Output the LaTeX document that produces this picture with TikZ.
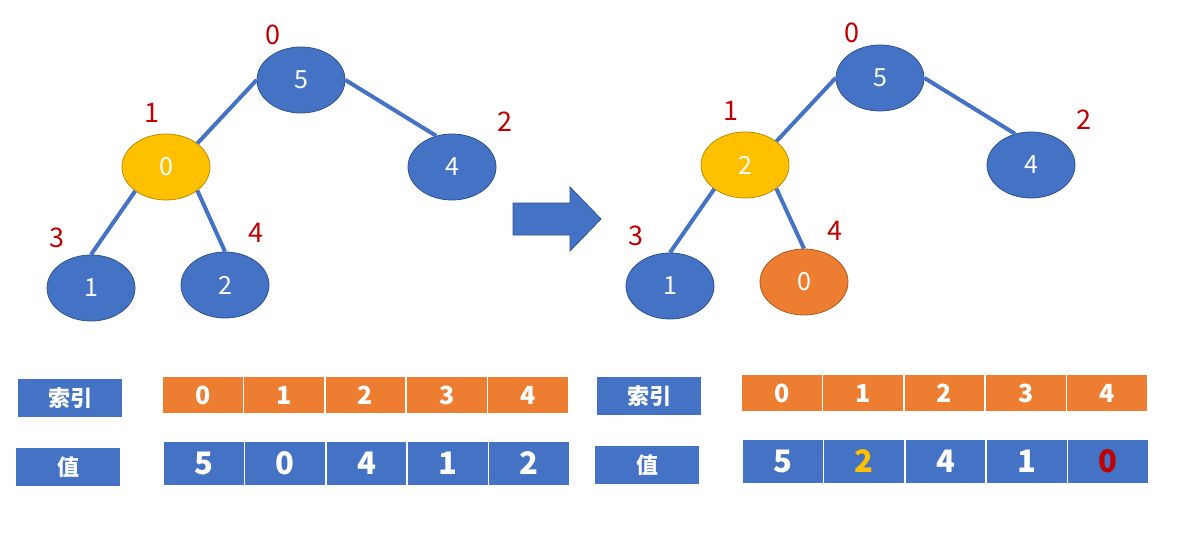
\documentclass[tikz,border=0pt]{standalone}
\usepackage{fontspec}
\setmainfont{Noto Sans CJK SC}
\usetikzlibrary{shapes.geometric}
\definecolor{myblue}{HTML}{4472C4}
\definecolor{blueedge}{HTML}{2F528F}
\definecolor{myorange}{HTML}{ED7D31}
\definecolor{orangeedge}{HTML}{AE5A21}
\definecolor{myyellow}{HTML}{FFC000}
\definecolor{yellowedge}{HTML}{BC8C00}
\definecolor{myred}{HTML}{C00000}
\begin{document}
\begin{tikzpicture}[x=1pt,y=-1pt,
  tnode/.style={ellipse, minimum width=88pt, minimum height=66pt, inner sep=0pt,
    fill=myblue, draw=blueedge, line width=0.8pt, text=white,
    font=\fontsize{25}{25}\selectfont},
  ynode/.style={tnode, fill=myyellow, draw=yellowedge},
  onode/.style={tnode, fill=myorange, draw=orangeedge},
  treeedge/.style={myblue, line width=4pt},
  idx/.style={text=myred, inner sep=0pt, font=\fontsize{27}{27}\selectfont},
  lab/.style={rectangle, fill=myblue, minimum width=104pt, minimum height=38pt,
    inner sep=0pt, text=white, font=\bfseries\fontsize{22}{22}\selectfont},
  icell/.style={rectangle, fill=myorange, draw=white, line width=1.5pt,
    minimum width=81.4pt, minimum height=38pt, inner sep=0pt, text=white,
    font=\bfseries\fontsize{25}{25}\selectfont},
  vcell/.style={icell, fill=myblue, minimum height=45pt,
    font=\bfseries\fontsize{31}{31}\selectfont},
  blockarrow/.style={fill=myblue, draw=blueedge, line width=0.8pt}
]
\useasboundingbox (0,0) rectangle (1182,556);

% ---------- left tree ----------
\node[tnode] (La) at (301,80) {5};
\node[ynode] (Lb) at (166,167) {0};
\node[tnode] (Lc) at (452,167) {4};
\node[tnode] (Ld) at (91,288) {1};
\node[tnode] (Le) at (225,285) {2};
\draw[treeedge] (La.west) -- (Lb.37);
\draw[treeedge] (La.east) -- (Lc.117);
\draw[treeedge] (Lb.218) -- (Ld.north);
\draw[treeedge] (Lb.-37) -- (Le.north);
\node[idx] (Lia) at (273,35) {0};
\node[idx] (Lib) at (152,113) {1};
\node[idx] (Lic) at (505,122) {2};
\node[idx] (Lid) at (57,238) {3};
\node[idx] (Lie) at (256,233) {4};

% ---------- arrow ----------
\draw[blockarrow] (513,203) -- (570,203) -- (570,187) -- (601,219) -- (570,251) -- (570,235) -- (513,235) -- cycle;

% ---------- right tree ----------
\node[tnode] (Ra) at (880,78) {5};
\node[ynode] (Rb) at (745,165) {2};
\node[tnode] (Rc) at (1031,165) {4};
\node[tnode] (Rd) at (670,286) {1};
\node[onode] (Re) at (804,282) {0};
\draw[treeedge] (Ra.west) -- (Rb.37);
\draw[treeedge] (Ra.east) -- (Rc.117);
\draw[treeedge] (Rb.218) -- (Rd.north);
\draw[treeedge] (Rb.-37) -- (Re.north);
\node[idx] (Ria) at (852,33) {0};
\node[idx] (Rib) at (731,111) {1};
\node[idx] (Ric) at (1084,120) {2};
\node[idx] (Rid) at (636,236) {3};
\node[idx] (Rie) at (835,231) {4};

% ---------- left tables ----------
\node[lab] (Lsy) at (70,398) {索引};
\node[lab] (Lz) at (68,467) {值};
\foreach \v [count=\i from 0] in {0,1,2,3,4} {
  \node[icell] (Li\i) at (162+40.7+81.4*\i,395) {\v};
}
\foreach \v [count=\i from 0] in {5,0,4,1,2} {
  \node[vcell] (Lv\i) at (163+40.7+81.4*\i,463.5) {\v};
}

% ---------- right tables ----------
\node[lab] (Rsy) at (649,396) {索引};
\node[lab] (Rz) at (647,465) {值};
\foreach \v [count=\i from 0] in {0,1,2,3,4} {
  \node[icell] (Ri\i) at (741+40.7+81.4*\i,393) {\v};
}
\node[vcell] (Rv0) at (742+40.7,461.5) {5};
\node[vcell, text=myyellow] (Rv1) at (742+40.7+81.4,461.5) {2};
\node[vcell] (Rv2) at (742+40.7+162.8,461.5) {4};
\node[vcell] (Rv3) at (742+40.7+244.2,461.5) {1};
\node[vcell, text=myred] (Rv4) at (742+40.7+325.6,461.5) {0};
\end{tikzpicture}
\end{document}
